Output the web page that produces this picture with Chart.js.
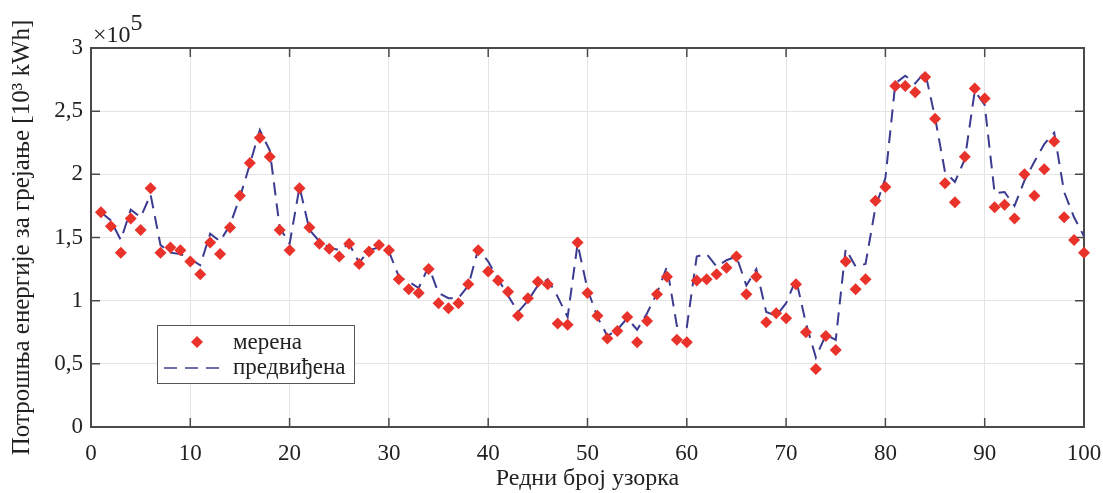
<!DOCTYPE html>
<html>
<head>
<meta charset="utf-8">
<script src="https://cdn.jsdelivr.net/npm/chart.js@4.4.1/dist/chart.umd.min.js"></script>
<style>
  html, body { margin: 0; padding: 0; background: #fff; }
  canvas { display: block; }
</style>
</head>
<body>
<canvas id="chart" width="1103" height="493"></canvas>
<script>
// sample numbers 1..100, values in units of 10^5
const measured = [
  1.70, 1.59, 1.38, 1.65, 1.56, 1.89, 1.38, 1.42, 1.40, 1.31,
  1.21, 1.46, 1.37, 1.58, 1.83, 2.09, 2.29, 2.14, 1.56, 1.40,
  1.89, 1.58, 1.45, 1.41, 1.35, 1.45, 1.29, 1.39, 1.44, 1.40,
  1.17, 1.09, 1.06, 1.25, 0.98, 0.94, 0.98, 1.13, 1.40, 1.23,
  1.16, 1.07, 0.88, 1.02, 1.15, 1.13, 0.82, 0.81, 1.46, 1.06,
  0.88, 0.70, 0.76, 0.87, 0.67, 0.84, 1.05, 1.19, 0.69, 0.67,
  1.16, 1.17, 1.21, 1.26, 1.35, 1.05, 1.19, 0.83, 0.90, 0.86,
  1.13, 0.75, 0.46, 0.72, 0.61, 1.31, 1.09, 1.17, 1.79, 1.90,
  2.70, 2.70, 2.65, 2.77, 2.44, 1.93, 1.78, 2.14, 2.68, 2.60,
  1.74, 1.76, 1.65, 2.00, 1.83, 2.04, 2.26, 1.66, 1.48, 1.38
];
const predicted = [
  1.70, 1.635, 1.48, 1.72, 1.66, 1.84, 1.44, 1.38, 1.37, 1.33,
  1.28, 1.53, 1.47, 1.60, 1.82, 2.08, 2.35, 2.19, 1.58, 1.45,
  1.90, 1.56, 1.47, 1.42, 1.40, 1.45, 1.30, 1.40, 1.42, 1.39,
  1.19, 1.15, 1.10, 1.27, 1.06, 1.02, 1.02, 1.12, 1.41, 1.31,
  1.17, 1.04, 0.91, 1.00, 1.12, 1.17, 1.03, 0.87, 1.45, 1.09,
  0.87, 0.72, 0.77, 0.86, 0.77, 0.90, 1.06, 1.27, 0.80, 0.79,
  1.35, 1.37, 1.27, 1.32, 1.35, 1.12, 1.25, 0.91, 0.88, 0.98,
  1.17, 0.82, 0.55, 0.73, 0.69, 1.41, 1.27, 1.29, 1.74, 1.97,
  2.72, 2.78, 2.72, 2.81, 2.45, 2.02, 1.94, 2.12, 2.66, 2.55,
  1.85, 1.86, 1.75, 1.95, 2.10, 2.24, 2.33, 1.86, 1.66, 1.51
];
const xTicks = [0, 10, 20, 30, 40, 50, 60, 70, 80, 90, 100];
const yTicks = [0, 0.5, 1, 1.5, 2, 2.5, 3];
const seriesNames = ['мерена', 'предвиђена'];

const RED = '#e8322a';
const BLUE = '#3b3b92';
const FRAME = '#4a4a4a';
const SERIF = '"Liberation Serif", "Times New Roman", serif';

const toPoints = arr => arr.map((v, i) => ({ x: i + 1, y: v }));

// MATLAB-style box with inward ticks, legend and the exponent label
const matlabBits = {
  id: 'matlabBits',
  beforeDatasetsDraw(chart) {
    const { ctx, chartArea: a, scales: { x, y } } = chart;
    ctx.save();
    ctx.strokeStyle = FRAME;
    ctx.lineWidth = 1.5;
    ctx.beginPath();
    xTicks.forEach(v => {
      const px = x.getPixelForValue(v);
      ctx.moveTo(px, a.bottom); ctx.lineTo(px, a.bottom - 9);
      ctx.moveTo(px, a.top); ctx.lineTo(px, a.top + 9);
    });
    yTicks.forEach(v => {
      const py = y.getPixelForValue(v);
      ctx.moveTo(a.left, py); ctx.lineTo(a.left + 9, py);
      ctx.moveTo(a.right, py); ctx.lineTo(a.right - 9, py);
    });
    ctx.stroke();
    ctx.lineWidth = 2;
    ctx.strokeRect(a.left, a.top, a.right - a.left, a.bottom - a.top);
    ctx.restore();
  },
  afterDraw(chart) {
    const { ctx } = chart;
    ctx.save();
    // exponent
    ctx.fillStyle = '#222';
    ctx.textBaseline = 'alphabetic';
    ctx.font = '24px ' + SERIF;
    ctx.fillText('\u00d710', 93, 42);
    const w = ctx.measureText('\u00d710').width;
    ctx.fillText('5', 93 + w, 30);

    // legend
    const lx = 157, ly = 325, lw = 197, lh = 58;
    ctx.fillStyle = '#fff';
    ctx.fillRect(lx, ly, lw, lh);
    ctx.strokeStyle = '#555';
    ctx.lineWidth = 1;
    ctx.strokeRect(lx + 0.5, ly + 0.5, lw, lh);

    ctx.fillStyle = RED;
    ctx.beginPath();
    ctx.moveTo(197, 342 - 6); ctx.lineTo(203, 342);
    ctx.lineTo(197, 342 + 6); ctx.lineTo(191, 342);
    ctx.closePath();
    ctx.fill();

    ctx.strokeStyle = BLUE;
    ctx.lineWidth = 1.5;
    ctx.setLineDash([13, 8]);
    ctx.beginPath();
    ctx.moveTo(164, 368); ctx.lineTo(227, 368);
    ctx.stroke();
    ctx.setLineDash([]);

    ctx.fillStyle = '#222';
    ctx.font = '23px ' + SERIF;
    ctx.textBaseline = 'middle';
    ctx.fillText(seriesNames[0], 233, 343);
    ctx.fillText(seriesNames[1], 233, 368);
    ctx.restore();
  }
};

new Chart(document.getElementById('chart'), {
  type: 'line',
  data: {
    datasets: [
      {
        label: seriesNames[1],
        data: toPoints(predicted),
        borderColor: BLUE,
        borderWidth: 2,
        borderDash: [13, 8],
        pointRadius: 0,
        fill: false,
        tension: 0,
        clip: false,
        order: 2
      },
      {
        label: seriesNames[0],
        data: toPoints(measured),
        showLine: false,
        pointStyle: 'rectRot',
        pointRadius: 6,
        pointBackgroundColor: RED,
        pointBorderColor: RED,
        pointBorderWidth: 0,
        clip: false,
        order: 1
      }
    ]
  },
  options: {
    responsive: false,
    animation: false,
    devicePixelRatio: 1,
    layout: { padding: { top: 48, right: 19, left: 0, bottom: 0 } },
    plugins: { legend: { display: false }, tooltip: { enabled: false } },
    scales: {
      x: {
        type: 'linear',
        min: 0, max: 100,
        afterBuildTicks: s => { s.ticks = xTicks.map(v => ({ value: v })); },
        afterFit: s => { s.height = 66; s.paddingLeft = 0; s.paddingRight = 0; },
        grid: { color: '#e4e4e4', lineWidth: 1, drawTicks: false },
        border: { display: false },
        ticks: { color: '#222', padding: 13, maxRotation: 0, font: { family: SERIF, size: 23 } },
        title: {
          display: true,
          text: 'Редни број узорка',
          color: '#222',
          font: { family: SERIF, size: 24 },
          padding: { top: 0, bottom: 0 }
        }
      },
      y: {
        type: 'linear',
        min: 0, max: 3,
        afterBuildTicks: s => { s.ticks = yTicks.map(v => ({ value: v })); },
        afterFit: s => { s.width = 91; s.paddingTop = 0; s.paddingBottom = 0; },
        grid: { color: '#e4e4e4', lineWidth: 1, drawTicks: false },
        border: { display: false },
        ticks: {
          color: '#222', padding: 8,
          font: { family: SERIF, size: 23 },
          callback: v => String(v).replace('.', ',')
        },
        title: {
          display: true,
          text: 'Потрошња енергије за грејање [10³ kWh]',
          color: '#222',
          font: { family: SERIF, size: 25 },
          padding: { top: 7, bottom: 0 }
        }
      }
    }
  },
  plugins: [matlabBits]
});
</script>
</body>
</html>
